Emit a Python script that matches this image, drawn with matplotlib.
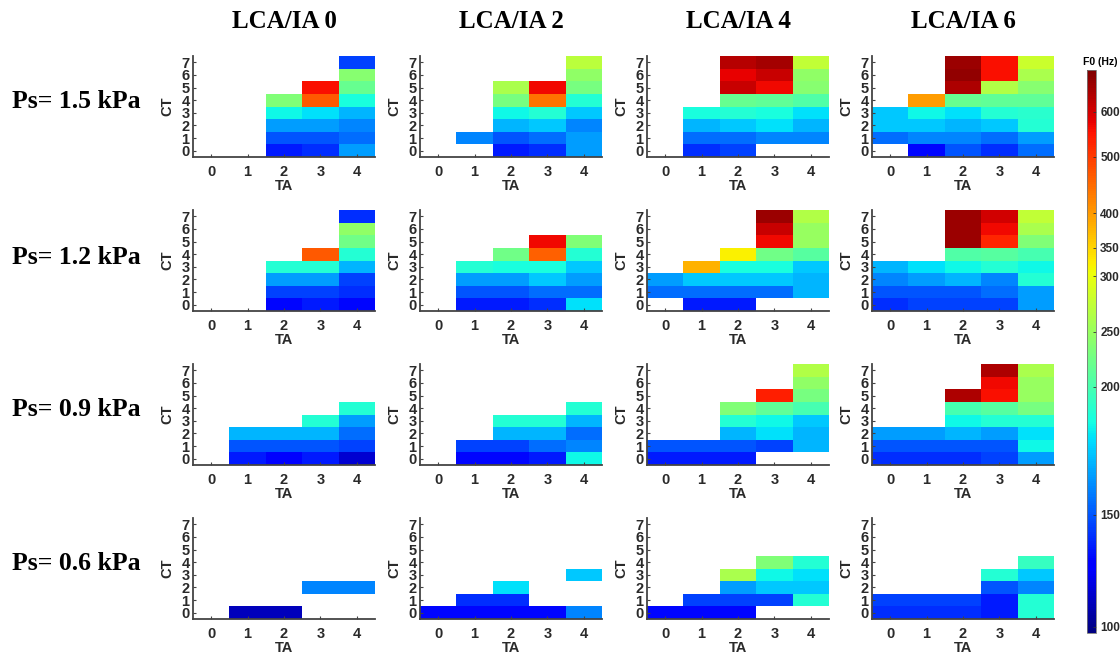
import numpy as np
import matplotlib
matplotlib.use("Agg")
import matplotlib.pyplot as plt
from matplotlib.colors import FuncNorm

N = np.nan
col_titles = ["LCA/IA 0", "LCA/IA 2", "LCA/IA 4", "LCA/IA 6"]
row_labels = ["Ps= 1.5 kPa", "Ps= 1.2 kPa", "Ps= 0.9 kPa", "Ps= 0.6 kPa"]
ta_labels = ["0", "1", "2", "3", "4"]
ct_labels = ["0", "1", "2", "3", "4", "5", "6", "7"]
cbar_ticks = [100, 150, 200, 250, 300, 350, 400, 500, 600]

# F0 (Hz); each panel: rows CT0..CT7, columns TA0..TA4
ps15_lca0 = [[N, N, 135, 140, 165], [N, N, 150, 150, 155], [N, N, 165, 165, 160], [N, N, 185, 180, 170],
             [N, N, 235, 470, 188], [N, N, N, 560, 220], [N, N, N, N, 240], [N, N, N, N, 145]]
ps15_lca2 = [[N, N, 135, 140, 165], [N, 160, 150, 155, 165], [N, N, 170, 175, 160], [N, N, 185, 190, 175],
             [N, N, 230, 440, 190], [N, N, 260, 570, 230], [N, N, N, N, 245], [N, N, N, N, 270]]
ps15_lca4 = [[N, 140, 145, N, N], [N, 155, 155, 160, 160], [N, 170, 175, 180, 170], [N, 188, 190, 188, 180],
             [N, N, 220, 215, 205], [N, N, 610, 570, 240], [N, N, 580, 610, 245], [N, N, 630, 650, 275]]
ps15_lca6 = [[N, 130, 150, 140, 155], [155, 160, 160, 155, 165], [175, 175, 170, 175, 190], [175, 185, 180, 190, 192],
             [N, 400, 220, 215, 215], [N, N, 640, 265, 240], [N, N, 670, 560, 260], [N, N, 660, 560, 280]]

ps12_lca0 = [[N, N, 130, 135, 130], [N, N, 145, 145, 140], [N, N, 165, 165, 145], [N, N, 190, 190, 170],
             [N, N, N, 470, 190], [N, N, N, N, 225], [N, N, N, N, 245], [N, N, N, N, 140]]
ps12_lca2 = [[N, 135, 135, 140, 180], [N, 150, 150, 155, 155], [N, 165, 165, 175, 165], [N, 190, 188, 188, 175],
             [N, N, 225, 460, 190], [N, N, N, 570, 235], [N, N, N, N, N], [N, N, N, N, N]]
ps12_lca4 = [[N, 135, 135, N, N], [155, 155, 155, 155, 170], [165, 175, 175, 175, 170], [N, 380, 188, 188, 175],
             [N, N, 320, 225, 210], [N, N, N, 570, 250], [N, N, N, 610, 250], [N, N, N, 660, 265]]
ps12_lca6 = [[140, 145, 145, 145, 165], [150, 150, 150, 155, 165], [160, 165, 170, 160, 190], [170, 180, 185, 190, 185],
             [N, N, 205, 210, 200], [N, N, 660, 530, 235], [N, N, 660, 570, 260], [N, N, 660, 600, 275]]

ps09_lca0 = [[N, 135, 125, 135, 115], [N, 150, 150, 150, 145], [N, 170, 170, 170, 155], [N, N, N, 190, 165],
             [N, N, N, N, 190], [N, N, N, N, N], [N, N, N, N, N], [N, N, N, N, N]]
ps09_lca2 = [[N, 130, 130, 135, 185], [N, 145, 145, 155, 160], [N, N, 170, 170, 155], [N, N, 190, 190, 170],
             [N, N, N, N, 190], [N, N, N, N, N], [N, N, N, N, N], [N, N, N, N, N]]
ps09_lca4 = [[135, 135, 135, N, N], [150, 150, 150, 145, 170], [N, N, 170, 180, 170], [N, N, 190, 185, 175],
             [N, N, 235, 215, 200], [N, N, N, 540, 230], [N, N, N, N, 245], [N, N, N, N, 265]]
ps09_lca6 = [[140, 140, 140, 145, 165], [150, 150, 150, 150, 185], [165, 165, 170, 165, 180], [N, N, 185, 190, 190],
             [N, N, 200, 210, 230], [N, N, 640, 560, 250], [N, N, N, 570, 250], [N, N, N, 640, 260]]

ps06_lca0 = [[N, 110, 110, N, N], [N, N, N, N, N], [N, N, N, 160, 160], [N, N, N, N, N],
             [N, N, N, N, N], [N, N, N, N, N], [N, N, N, N, N], [N, N, N, N, N]]
ps06_lca2 = [[130, 130, 130, 130, 160], [N, 140, 140, N, N], [N, N, 180, N, N], [N, N, N, N, 175],
             [N, N, N, N, N], [N, N, N, N, N], [N, N, N, N, N], [N, N, N, N, N]]
ps06_lca4 = [[130, 130, 130, N, N], [N, 145, 145, 145, 190], [N, N, 165, 175, 175], [N, N, 260, 185, 180],
             [N, N, N, 235, 190], [N, N, N, N, N], [N, N, N, N, N], [N, N, N, N, N]]
ps06_lca6 = [[140, 140, 140, 135, 190], [145, 145, 145, 135, 190], [N, N, N, 150, 160], [N, N, N, 190, 175],
             [N, N, N, N, 195], [N, N, N, N, N], [N, N, N, N, N], [N, N, N, N, N]]

panels = [[ps15_lca0, ps15_lca2, ps15_lca4, ps15_lca6],
          [ps12_lca0, ps12_lca2, ps12_lca4, ps12_lca6],
          [ps09_lca0, ps09_lca2, ps09_lca4, ps09_lca6],
          [ps06_lca0, ps06_lca2, ps06_lca4, ps06_lca6]]

# non-uniform colour scale (tick value -> position along colorbar)
scale_hz = [97, 100, 150, 200, 250, 300, 350, 400, 500, 600, 692]
scale_pos = [0, 0.011, 0.210, 0.437, 0.535, 0.634, 0.684, 0.746, 0.846, 0.926, 1.0]
fwd = lambda x: np.interp(x, scale_hz, scale_pos)
inv = lambda y: np.interp(y, scale_pos, scale_hz)
norm = FuncNorm((fwd, inv), vmin=97, vmax=692)

W, H = 1120, 655
fig = plt.figure(figsize=(W / 100, H / 100), dpi=100)
sans = "Liberation Sans"
serif = "Liberation Serif"
spine_c = "#444444"
txt_c = "#2a2a2a"

lefts = [193, 420, 647, 872]
tops = [56, 210, 364, 518]
aw, ah = 182, 101

for r in range(4):
    for c in range(4):
        ax = fig.add_axes([lefts[c] / W, 1 - (tops[r] + ah) / H, aw / W, ah / H])
        d = np.ma.masked_invalid(np.array(panels[r][c], dtype=float))
        ax.pcolormesh(np.arange(-0.5, 5), np.arange(-0.5, 8), d, cmap="jet", norm=norm)
        ax.set_xlim(-0.5, 4.5)
        ax.set_ylim(-0.5, 7.5)
        ax.set_xticks(range(5))
        ax.set_xticklabels(ta_labels)
        ax.set_yticks(range(8))
        ax.set_yticklabels(ct_labels)
        for s in ["top", "right"]:
            ax.spines[s].set_visible(False)
        for s in ["left", "bottom"]:
            ax.spines[s].set_color(spine_c)
            ax.spines[s].set_linewidth(1.3)
        ax.tick_params(direction="in", length=2.5, width=0.8, color=spine_c, pad=2.5)
        ax.tick_params(axis="x", pad=6)
        for lab in ax.get_xticklabels() + ax.get_yticklabels():
            lab.set_fontfamily(sans)
            lab.set_fontweight("bold")
            lab.set_fontsize(10.5)
            lab.set_color(txt_c)
        ax.set_xlabel("TA", fontfamily=sans, fontweight="bold", fontsize=10.5, color=txt_c, labelpad=0)
        ax.set_ylabel("CT", fontfamily=sans, fontweight="bold", fontsize=10.5, color=txt_c, labelpad=5)

for c in range(4):
    fig.text((lefts[c] + aw / 2) / W, 1 - 22 / H, col_titles[c], ha="center", va="center",
             fontfamily=serif, fontweight="bold", fontsize=18)

row_y = [101, 257, 410, 564]
for r in range(4):
    fig.text(12 / W, 1 - row_y[r] / H, row_labels[r], ha="left", va="center",
             fontfamily=serif, fontweight="bold", fontsize=18.5)

cax = fig.add_axes([1087 / W, 1 - 633 / H, 9 / W, 563 / H])
sm = matplotlib.cm.ScalarMappable(norm=norm, cmap="jet")
cb = fig.colorbar(sm, cax=cax, ticks=cbar_ticks)
cb.outline.set_edgecolor("#777777")
cb.outline.set_linewidth(0.6)
cax.tick_params(direction="in", length=2, width=0.6, color="#333333", pad=3)
cax.yaxis.set_minor_locator(matplotlib.ticker.NullLocator())
for lab in cax.get_yticklabels():
    lab.set_fontfamily(sans)
    lab.set_fontweight("bold")
    lab.set_fontsize(8.5)
    lab.set_color(txt_c)
fig.text(1100 / W, 1 - 62 / H, "F0 (Hz)", ha="center", va="center",
         fontfamily=sans, fontweight="bold", fontsize=7.5)

fig.savefig("out.png", dpi=100)
